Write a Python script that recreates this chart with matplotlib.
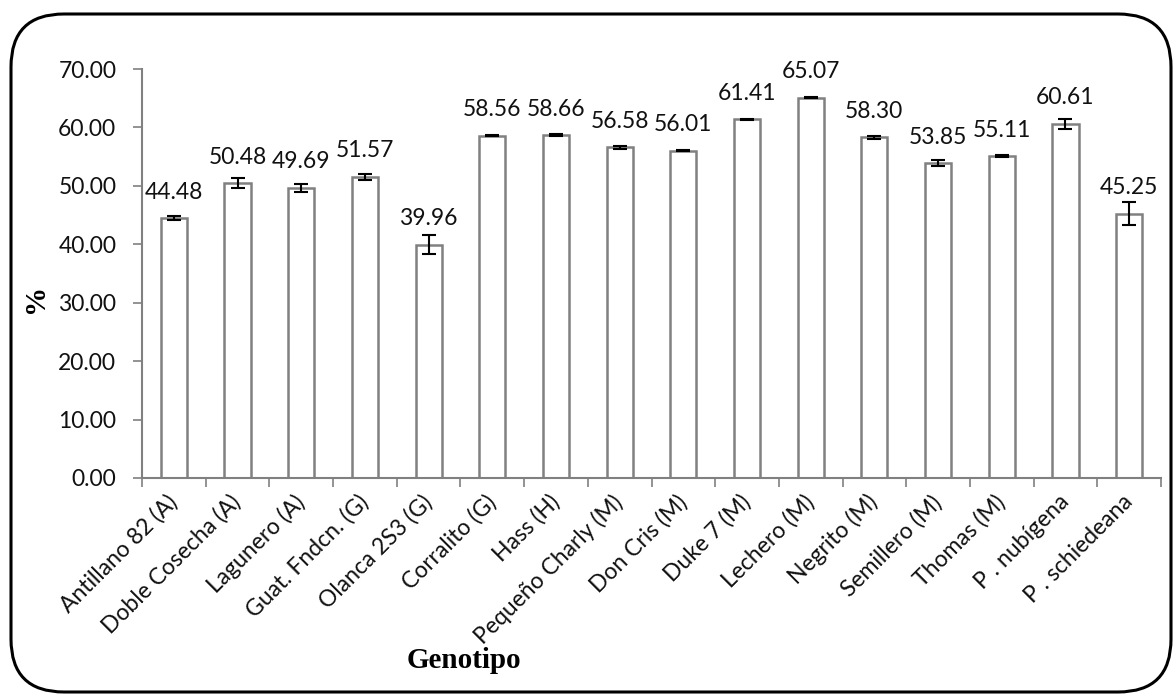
import matplotlib
matplotlib.use("Agg")
import matplotlib.pyplot as plt
from matplotlib.patches import FancyBboxPatch
import numpy as np

categories = ["Antillano 82 (A)", "Doble Cosecha (A)", "Lagunero (A)", "Guat. Fndcn. (G)",
              "Olanca 2S3 (G)", "Corralito (G)", "Hass (H)", "Pequeño Charly (M)",
              "Don Cris (M)", "Duke 7 (M)", "Lechero (M)", "Negrito (M)",
              "Semillero (M)", "Thomas (M)", "P . nubígena", "P . schiedeana"]
values = [44.48, 50.48, 49.69, 51.57, 39.96, 58.56, 58.66, 56.58,
          56.01, 61.41, 65.07, 58.30, 53.85, 55.11, 60.61, 45.25]
errors = [0.3, 0.85, 0.7, 0.5, 1.7, 0.1, 0.2, 0.2,
          0.1, 0.1, 0.1, 0.3, 0.5, 0.2, 0.9, 2.0]
yticks = [0, 10, 20, 30, 40, 50, 60, 70]

plt.rcParams['font.family'] = ['Lato', 'DejaVu Sans']

fig = plt.figure(figsize=(11.76, 6.96), dpi=100)
ax = fig.add_axes([142/1176, 1 - 478/696, (1161-142)/1176, (478-69)/696])

x = np.arange(len(categories))
ax.bar(x, values, width=0.41, color="white", edgecolor="#808080", linewidth=1.8, zorder=2)
ax.errorbar(x, values, yerr=errors, fmt="none", ecolor="black", elinewidth=1.5,
            capsize=5, capthick=1.5, zorder=3)
for xi, v in zip(x, values):
    ax.annotate(f"{v:.2f}", (xi, v), xytext=(0, 14), textcoords="offset points",
                ha="center", va="baseline", fontsize=16.5, color="#111111")

ax.set_xlim(-0.5, len(categories) - 0.5)
ax.set_ylim(0, 70)
ax.set_yticks(yticks)
ax.set_yticklabels([f"{t:.2f}" for t in yticks], fontsize=16.5, color="#111111")
ax.set_xticks(np.arange(len(categories) + 1) - 0.5, minor=False)
ax.set_xticklabels([])
ax.set_xticks(x, minor=True)
ax.set_xticklabels(categories, minor=True, rotation=45, ha="right", va="center",
                   rotation_mode="anchor", fontsize=16.5, color="#111111")
ax.tick_params(axis="x", which="minor", length=0, pad=15)
ax.tick_params(axis="x", which="major", length=6.5, width=1.2, color="#808080", direction="out")
ax.tick_params(axis="y", length=6.5, width=1.2, color="#808080", direction="out", pad=12)
for s in ["top", "right"]:
    ax.spines[s].set_visible(False)
for s in ["left", "bottom"]:
    ax.spines[s].set_color("#808080")
    ax.spines[s].set_linewidth(1.5)

fig.text(36/1176, 1 - 298/696, "%", fontsize=21, fontweight="bold", rotation=90,
         family="Liberation Serif", ha="center", va="center")
fig.text(464/1176, 1 - 660/696, "Genotipo", fontsize=21, fontweight="bold",
         family="Liberation Serif", ha="center", va="center")

border = FancyBboxPatch((11/1176, 4/696), 1 - 16/1176, 1 - 18/696,
                        boxstyle="round,pad=0,rounding_size=0.045",
                        transform=fig.transFigure, fill=False, edgecolor="black",
                        linewidth=2.2, mutation_aspect=1176/696)
fig.patches.append(border)

fig.savefig("out.png", dpi=100)
